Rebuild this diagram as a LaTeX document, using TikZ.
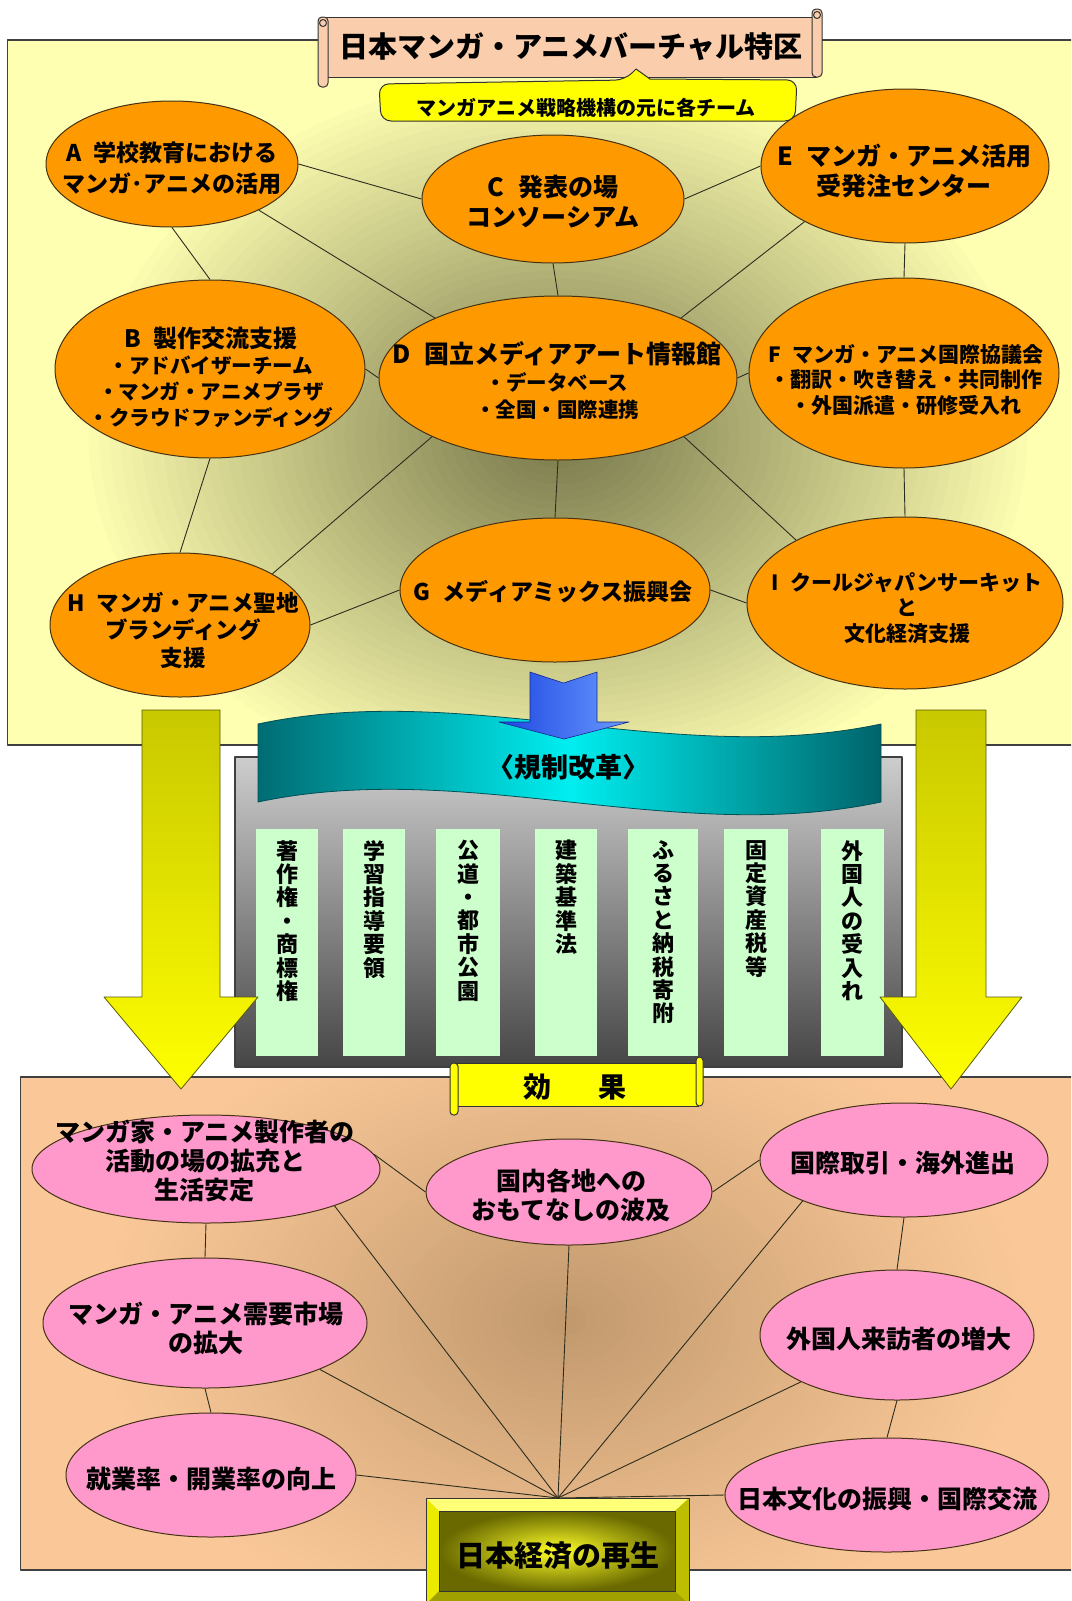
\documentclass[tikz,border=0pt]{standalone}
\usepackage{fontspec}
\setmainfont{Noto Sans CJK JP}
\usetikzlibrary{shapes.geometric}
\definecolor{panelY}{RGB}{255,255,178}
\definecolor{panelYdk}{RGB}{118,118,74}
\definecolor{peachc}{RGB}{250,200,152}
\definecolor{peachdk}{RGB}{192,152,108}
\definecolor{orangec}{RGB}{255,153,0}
\definecolor{pinkc}{RGB}{255,153,204}
\definecolor{bordc}{RGB}{70,50,20}
\definecolor{linkc}{RGB}{45,45,30}
\definecolor{titlec}{RGB}{250,206,172}
\definecolor{yelc}{RGB}{255,255,0}
\definecolor{greenc}{RGB}{204,255,204}
\definecolor{bevT}{RGB}{255,255,120}
\definecolor{bevL}{RGB}{235,235,0}
\definecolor{bevR}{RGB}{190,190,0}
\definecolor{bevB}{RGB}{160,160,0}
\definecolor{boxIn}{RGB}{255,255,40}
\definecolor{boxOut}{RGB}{105,105,0}
\definecolor{arrTop}{RGB}{200,200,0}
\definecolor{arrBd}{RGB}{90,90,0}
\definecolor{grayT}{RGB}{205,205,205}
\definecolor{grayB}{RGB}{70,70,70}
\definecolor{tealL}{RGB}{0,108,115}
\definecolor{tealR}{RGB}{0,100,106}
\definecolor{tealM}{RGB}{0,238,240}
\definecolor{tealD}{RGB}{0,80,85}
\definecolor{blueL}{RGB}{30,70,225}
\definecolor{blueR}{RGB}{105,155,255}
\definecolor{blueD}{RGB}{20,40,140}
\newcommand\gp{\hspace{0.55em}}
\tikzset{
  panelline/.style={draw=black!75, line width=1.3pt},
  teamnode/.style={ellipse, draw=bordc, line width=1pt, fill=orangec, inner sep=0pt},
  effnode/.style={ellipse, draw=bordc, line width=1pt, fill=pinkc, inner sep=0pt},
  tt/.style 2 args={align=center, inner sep=0pt, text=black, font=\bfseries\fontsize{#1}{#2}\selectfont},
  conn/.style={draw=linkc, line width=0.9pt},
  colbox/.style={fill=greenc, minimum width=62, minimum height=227, inner sep=0pt, anchor=north},
  coltxt/.style={align=center, inner sep=0pt, anchor=north, text=black, font=\bfseries\fontsize{22}{23.4}\selectfont},
  scrollpart/.style={draw=black!80, line width=1pt},
  bigarrow/.style={top color=arrTop, bottom color=yelc, draw=arrBd, line width=0.8pt}
}
\begin{document}
\begin{tikzpicture}[x=1pt,y=-1pt,line join=round]
\useasboundingbox (0,0) rectangle (1071,1601);
\clip (0,0) rectangle (1071,1601);

% ---------- top panel ----------
\fill[panelY] (7.5,40) rectangle (1080,745);
\begin{scope}
  \clip (7.5,40) rectangle (1080,745);
  \foreach \i in {0,...,44}{
    \pgfmathsetmacro\rr{1-\i/45}
    \pgfmathsetmacro\pp{100*(1-\rr)^0.95}
    \pgfmathsetmacro\rx{480*\rr}
    \pgfmathsetmacro\ry{370*\rr}
    \fill[panelYdk!\pp!panelY] (558,435) ellipse [x radius=\rx pt, y radius=\ry pt];
  }
\end{scope}
\draw[panelline] (7.5,40) rectangle (1080,745);

% team nodes
\node[teamnode, minimum width=252, minimum height=126] (A) at (172,164) {};
\node[teamnode, minimum width=310, minimum height=178] (B) at (210,369) {};
\node[teamnode, minimum width=262, minimum height=128] (C) at (553,199) {};
\node[teamnode, minimum width=358, minimum height=164] (D) at (558,378) {};
\node[teamnode, minimum width=288, minimum height=154] (E) at (905,166) {};
\node[teamnode, minimum width=310, minimum height=190] (F) at (904,373) {};
\node[teamnode, minimum width=310, minimum height=144] (G) at (555,590) {};
\node[teamnode, minimum width=260, minimum height=144] (H) at (180,625) {};
\node[teamnode, minimum width=316, minimum height=172] (I) at (905,603) {};

\node[tt={23}{31}] (At) at (172,168) {A\gp 学校教育における\\マンガ･アニメの活用};
\node[tt={20.5}{26}] (Bt) at (211,377) {{\fontsize{24}{26}\selectfont B\gp 製作交流支援}\\・アドバイザーチーム\\・マンガ・アニメプラザ\\・クラウドファンディング};
\node[tt={25}{30}] (Ct) at (553,202) {C\gp 発表の場\\コンソーシアム};
\node[tt={20.5}{27}] (Dt) at (557,381) {{\fontsize{25}{28}\selectfont D\gp 国立メディアアート情報館}\\・データベース\\・全国・国際連携};
\node[tt={25}{30}] (Et) at (904,171) {E\gp マンガ・アニメ活用\\受発注センター};
\node[tt={21}{25.5}] (Ft) at (906,380) {F\gp マンガ・アニメ国際協議会\\・翻訳・吹き替え・共同制作\\・外国派遣・研修受入れ};
\node[tt={23}{28}] (Gt) at (553,592) {G\gp メディアミックス振興会};
\node[tt={22.5}{27.5}] (Ht) at (183,630) {H\gp マンガ・アニメ聖地\\ブランディング\\支援};
\node[tt={21}{25.5}] (It) at (907,608) {I\gp クールジャパンサーキット\\と\\文化経済支援};

% team connectors
\draw[conn] (A.east) -- (C.west);
\draw[conn] (A.south) -- (B.north);
\draw[conn] (A.-28) -- (D.154);
\draw[conn] (C.east) -- (E.west);
\draw[conn] (C.south) -- (D.north);
\draw[conn] (E.209) -- (D.26);
\draw[conn] (E.south) -- (F.north);
\draw[conn] (B.east) -- (D.west);
\draw[conn] (D.east) -- (F.west);
\draw[conn] (B.south) -- (H.north);
\draw[conn] (D.205) -- (H.29);
\draw[conn] (D.south) -- (G.north);
\draw[conn] (D.-25) -- (I.150);
\draw[conn] (F.south) -- (I.north);
\draw[conn] (H.east) -- (G.west);
\draw[conn] (G.east) -- (I.west);

% ---------- bottom panel ----------
\fill[peachc] (20.5,1077) rectangle (1080,1570);
\begin{scope}
  \clip (20.5,1077) rectangle (1080,1570);
  \foreach \i in {0,...,44}{
    \pgfmathsetmacro\rr{1-\i/45}
    \pgfmathsetmacro\pp{100*(1-\rr)^1.1}
    \pgfmathsetmacro\rx{470*\rr}
    \pgfmathsetmacro\ry{330*\rr}
    \fill[peachdk!\pp!peachc] (565,1320) ellipse [x radius=\rx pt, y radius=\ry pt];
  }
\end{scope}
\draw[panelline] (20.5,1077) rectangle (1080,1570);

\node[effnode, minimum width=348, minimum height=108] (P1) at (206,1169) {};
\node[effnode, minimum width=324, minimum height=130] (P2) at (205,1323) {};
\node[effnode, minimum width=290, minimum height=124] (P3) at (211,1475) {};
\node[effnode, minimum width=286, minimum height=106] (Q1) at (569,1192) {};
\node[effnode, minimum width=288, minimum height=114] (Q2) at (904,1160) {};
\node[effnode, minimum width=274, minimum height=130] (Q3) at (897,1335) {};
\node[effnode, minimum width=324, minimum height=114] (Q4) at (887,1495) {};

\node[tt={25}{29}] (P1t) at (205,1161) {マンガ家・アニメ製作者の\\活動の場の拡充と\\生活安定};
\node[tt={25}{29}] (P2t) at (206,1328) {マンガ・アニメ需要市場\\の拡大};
\node[tt={25}{29}] (P3t) at (211,1479) {就業率・開業率の向上};
\node[tt={25}{29}] (Q1t) at (571,1195) {国内各地への\\おもてなしの波及};
\node[tt={25}{29}] (Q2t) at (903,1163) {国際取引・海外進出};
\node[tt={25}{29}] (Q3t) at (899,1339) {外国人来訪者の増大};
\node[tt={25}{29}] (Q4t) at (887,1499) {日本文化の振興・国際交流};

% final bevel box
\node[fill=yelc, draw=black!80, line width=1pt, minimum width=263, minimum height=106, inner sep=0pt, anchor=north west] (econ) at (426,1498) {};
\fill[bevT] (426,1498) -- (689,1498) -- (675,1511) -- (439,1511) -- cycle;
\fill[bevL] (426,1498) -- (439,1511) -- (439,1591) -- (426,1604) -- cycle;
\fill[bevR] (689,1498) -- (689,1604) -- (675,1591) -- (675,1511) -- cycle;
\fill[bevB] (426,1604) -- (439,1591) -- (675,1591) -- (689,1604) -- cycle;
\shade[inner color=boxIn, outer color=boxOut] (439,1511) rectangle (675,1591);
\draw[black!80, line width=1pt] (426,1498) rectangle (689,1604);
\draw[black!80, line width=0.8pt] (439,1511) rectangle (675,1591);
\node[tt={29}{32}] (econt) at (558,1556) {日本経済の再生};

% effect connectors
\draw[conn] (P1.5) -- (Q1.west);
\draw[conn] (Q1.east) -- (Q2.west);
\draw[conn] (P1.south) -- (P2.north);
\draw[conn] (P2.south) -- (P3.north);
\draw[conn] (Q2.south) -- (Q3.north);
\draw[conn] (Q3.south) -- (Q4.north);
\draw[conn] (econ.north) -- (P1.-16);
\draw[conn] (econ.north) -- (P2.-22);
\draw[conn] (econ.north) -- (P3.east);
\draw[conn] (econ.north) -- (Q1.south);
\draw[conn] (econ.north) -- (Q2.202);
\draw[conn] (econ.north) -- (Q3.206);
\draw[conn] (econ.north) -- (Q4.west);

% ---------- regulation reform block ----------
\shade[top color=grayT, bottom color=grayB, draw=black!75, line width=1.2pt] (235,757) rectangle (902,1067);

\node[colbox] (k1) at (287,829) {};
\node[colbox] (k2) at (374,829) {};
\node[colbox, minimum width=64] (k3) at (468,829) {};
\node[colbox] (k4) at (566,829) {};
\node[colbox, minimum width=70] (k5) at (663,829) {};
\node[colbox, minimum width=64] (k6) at (756,829) {};
\node[colbox, minimum width=63] (k7) at (852,829) {};
\node[coltxt] (k1t) at (287,840) {著\\作\\権\\・\\商\\標\\権};
\node[coltxt] (k2t) at (374,840) {学\\習\\指\\導\\要\\領};
\node[coltxt] (k3t) at (468,840) {公\\道\\・\\都\\市\\公\\園};
\node[coltxt] (k4t) at (566,840) {建\\築\\基\\準\\法};
\node[coltxt] (k5t) at (663,840) {ふ\\る\\さ\\と\\納\\税\\寄\\附};
\node[coltxt] (k6t) at (756,840) {固\\定\\資\\産\\税\\等};
\node[coltxt] (k7t) at (852,840) {外\\国\\人\\の\\受\\入\\れ};

% wave banner
\shade[left color=tealL, right color=tealR, middle color=tealM, draw=tealD, line width=0.8pt]
  (258,724) .. controls (465,680) and (674,768) .. (881,724) -- (881,802) .. controls (674,846) and (465,758) .. (258,802) -- cycle;
\node[tt={27}{30}] (reform) at (568,767) {〈規制改革〉};

% blue arrow
\shade[left color=blueL, right color=blueR, draw=blueD, line width=0.6pt]
  (530,672) -- (563.5,683) -- (597,672) -- (597,722) -- (629,722) -- (564,739) -- (499,722) -- (530,722) -- cycle;

% big yellow arrows
\shade[bigarrow] (142,710) -- (220,710) -- (220,997) -- (258,997) -- (181,1089) -- (104,997) -- (142,997) -- cycle;
\shade[bigarrow] (916,710) -- (986,710) -- (986,997) -- (1022,997) -- (951,1089) -- (880,997) -- (916,997) -- cycle;

% ---------- title scroll ----------
\draw[scrollpart, fill=titlec] (326,17) rectangle (816,77);
\draw[scrollpart, fill=titlec, rounded corners=4pt] (318,17) rectangle (328,87);
\draw[scrollpart, fill=titlec] (323,23) circle (3.5);
\draw[scrollpart, fill=titlec, rounded corners=4pt] (812,9) rectangle (822,77);
\draw[scrollpart, fill=titlec] (817,15) circle (3.5);
\node[tt={29}{32}] (title) at (571,47) {日本マンガ・アニメバーチャル特区};

% callout
\draw[fill=yelc, draw=black!80, line width=1pt, rounded corners=10pt]
  (381,121) -- (379,84) -- (625,80) [sharp corners] -- (636,69) -- (650,79) [rounded corners=10pt] -- (797,80) -- (795,121) -- cycle;
\node[tt={20}{24}] (sub) at (586,108) {マンガアニメ戦略機構の元に各チーム};

% effect scroll
\draw[scrollpart, fill=yelc] (456,1063) rectangle (698,1106);
\draw[scrollpart, fill=yelc, rounded corners=3.5pt] (450,1063) rectangle (458,1115);
\draw[scrollpart, fill=yelc, rounded corners=3.5pt] (696,1057) rectangle (703,1106);
\node[tt={28}{30}] (effect) at (575,1087) {効\hspace{47pt}果};
\end{tikzpicture}
\end{document}
